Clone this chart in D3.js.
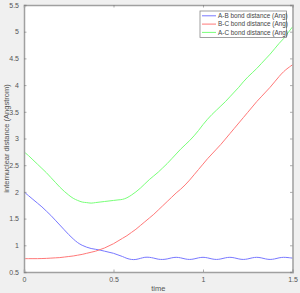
<!DOCTYPE html>
<html>
<head>
<meta charset="utf-8">
<script src="https://cdn.jsdelivr.net/npm/d3@7"></script>
<style>
  html, body { margin: 0; padding: 0; background: #f0f0f0; }
  svg { display: block; font-family: "Liberation Sans", Arial, sans-serif; }
</style>
</head>
<body>
<div id="chart"></div>
<script>
// time samples (s)
var times = [0, 0.025, 0.05, 0.075, 0.1, 0.125, 0.15, 0.175, 0.2, 0.225,
  0.25, 0.275, 0.3, 0.325, 0.35, 0.375, 0.4, 0.425, 0.45, 0.475,
  0.5, 0.525, 0.55, 0.575, 0.6, 0.625, 0.65, 0.675, 0.7, 0.725,
  0.75, 0.775, 0.8, 0.825, 0.85, 0.875, 0.9, 0.925, 0.95, 0.975,
  1.0, 1.025, 1.05, 1.075, 1.1, 1.125, 1.15, 1.175, 1.2, 1.225,
  1.25, 1.275, 1.3, 1.325, 1.35, 1.375, 1.4, 1.425, 1.45, 1.475, 1.5]

var abDist = [2.00, 1.93, 1.86, 1.79, 1.72, 1.64, 1.56, 1.47, 1.38, 1.29,
  1.20, 1.12, 1.05, 1.00, 0.965, 0.94, 0.925, 0.91, 0.89, 0.87,
  0.85, 0.82, 0.79, 0.755, 0.735, 0.735, 0.755, 0.775, 0.775, 0.76,
  0.74, 0.735, 0.745, 0.765, 0.775, 0.765, 0.745, 0.735, 0.745, 0.765,
  0.775, 0.765, 0.745, 0.735, 0.745, 0.765, 0.775, 0.765, 0.745, 0.735,
  0.745, 0.765, 0.775, 0.765, 0.745, 0.735, 0.745, 0.765, 0.775, 0.77, 0.76]

var bcDist = [0.75, 0.75, 0.75, 0.75, 0.752, 0.755, 0.76, 0.765, 0.77, 0.78,
  0.79, 0.80, 0.815, 0.83, 0.85, 0.87, 0.89, 0.92, 0.95, 0.99,
  1.03, 1.08, 1.13, 1.18, 1.24, 1.30, 1.37, 1.44, 1.51, 1.58,
  1.66, 1.74, 1.82, 1.90, 1.98, 2.05, 2.13, 2.22, 2.32, 2.42,
  2.52, 2.62, 2.71, 2.80, 2.89, 2.99, 3.09, 3.19, 3.29, 3.39,
  3.49, 3.59, 3.69, 3.78, 3.87, 3.96, 4.06, 4.16, 4.25, 4.32, 4.38]

var acDist = [2.75, 2.68, 2.60, 2.52, 2.44, 2.36, 2.27, 2.18, 2.09, 2.01,
  1.94, 1.88, 1.84, 1.81, 1.80, 1.79, 1.80, 1.81, 1.82, 1.83,
  1.84, 1.85, 1.86, 1.89, 1.94, 2.00, 2.07, 2.15, 2.23, 2.30,
  2.37, 2.45, 2.53, 2.62, 2.71, 2.80, 2.88, 2.96, 3.05, 3.15,
  3.26, 3.36, 3.45, 3.53, 3.61, 3.69, 3.78, 3.87, 3.96, 4.06,
  4.15, 4.23, 4.31, 4.40, 4.49, 4.58, 4.68, 4.78, 4.87, 4.98, 5.09]

var seriesNames = ['A-B bond distance (Ang)', 'B-C bond distance (Ang)', 'A-C bond distance (Ang)']
var seriesColors = ['#7878ff', '#ff7878', '#78ff78']
var xTicks = [0, 0.5, 1, 1.5]
var yTicks = [0.5, 1, 1.5, 2, 2.5, 3, 3.5, 4, 4.5, 5, 5.5]

var W = 300, H = 293
var margin = { top: 5, right: 7.5, bottom: 21, left: 24 }
var width = W - margin.left - margin.right,
  height = H - margin.top - margin.bottom

var svg = d3.select('#chart').append('svg')
  .attr('width', W).attr('height', H)

svg.append('rect').attr('width', W).attr('height', H).attr('fill', '#f0f0f0')

var g = svg.append('g')
  .attr('transform', 'translate(' + margin.left + ',' + margin.top + ')')

var x = d3.scaleLinear().domain([0, 1.5]).range([0, width])
var y = d3.scaleLinear().domain([0.5, 5.5]).range([height, 0])

g.append('rect').attr('width', width).attr('height', height).attr('fill', '#fff')

// lines
var line = d3.line()
  .x(function (d) { return x(d[0]) })
  .y(function (d) { return y(d[1]) })
  .curve(d3.curveCatmullRom)

var allSeries = [abDist, bcDist, acDist]
allSeries.forEach(function (vals, i) {
  g.append('path')
    .datum(times.map(function (t, k) { return [t, vals[k]] }))
    .attr('fill', 'none')
    .attr('stroke', seriesColors[i])
    .attr('stroke-width', 1)
    .attr('d', line)
})

// axes (MATLAB style: ticks inside, box on)
var axisColor = '#a0a0a0'
var tickLen = 2.5

var xAx = g.append('g').attr('transform', 'translate(0,' + height + ')')
  .call(d3.axisBottom(x).tickValues(xTicks).tickSize(-tickLen).tickPadding(5).tickFormat(d3.format('')))
var xTop = g.append('g')
  .call(d3.axisTop(x).tickValues(xTicks).tickSize(-tickLen).tickFormat(''))
var yAx = g.append('g')
  .call(d3.axisLeft(y).tickValues(yTicks).tickSize(-tickLen).tickPadding(5).tickFormat(d3.format('')))
var yRight = g.append('g').attr('transform', 'translate(' + width + ',0)')
  .call(d3.axisRight(y).tickValues(yTicks).tickSize(-tickLen).tickFormat(''))

;[xAx, xTop, yAx, yRight].forEach(function (a) {
  a.select('.domain').attr('stroke', axisColor).attr('stroke-width', 1.5)
  a.selectAll('.tick line').attr('stroke', '#777').attr('stroke-width', 0.6)
  a.selectAll('.tick text').attr('fill', '#555').style('font-size', '7px')
})

// axis labels
svg.append('text')
  .attr('x', margin.left + width / 2).attr('y', 291)
  .attr('text-anchor', 'middle')
  .attr('fill', '#555').style('font-size', '7.5px')
  .text('time')

svg.append('text')
  .attr('transform', 'rotate(-90)')
  .attr('x', -(margin.top + height / 2)).attr('y', 9)
  .attr('text-anchor', 'middle')
  .attr('fill', '#555').style('font-size', '7.5px')
  .text('internuclear distance (Angstrom)')

// legend
var lg = svg.append('g').attr('transform', 'translate(200,11)')
lg.append('rect').attr('width', 86.5).attr('height', 26.5)
  .attr('fill', '#fff').attr('stroke', '#888').attr('stroke-width', 0.8)
seriesNames.forEach(function (name, i) {
  var yy = 4.8 + i * 8.3
  lg.append('line').attr('x1', 2).attr('x2', 16).attr('y1', yy).attr('y2', yy)
    .attr('stroke', seriesColors[i]).attr('stroke-width', 1)
  lg.append('text').attr('x', 18).attr('y', yy + 2.3)
    .attr('fill', '#444').style('font-size', '6.4px')
    .text(name)
})
</script>
</body>
</html>
